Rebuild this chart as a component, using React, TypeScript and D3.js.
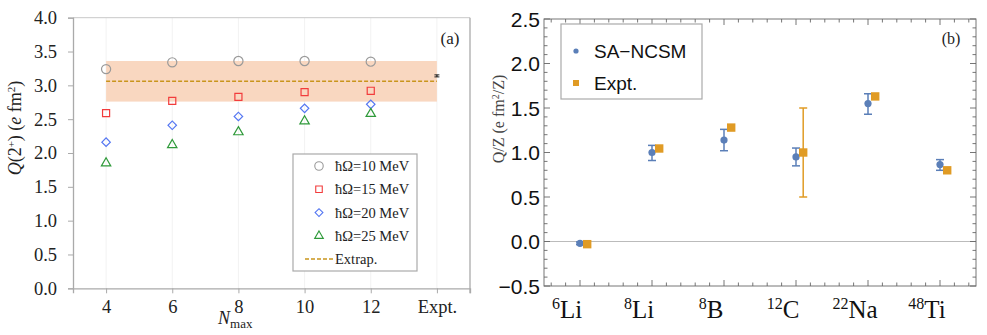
import React, { useEffect, useRef } from 'react';
import * as d3 from 'd3';

// panel (a): Q(2+) vs Nmax for several hbar-omega values
const nmaxLabels = ['4', '6', '8', '10', '12', 'Expt.'];
const hw10 = [3.24, 3.34, 3.36, 3.36, 3.35];
const hw15 = [2.59, 2.77, 2.83, 2.9, 2.92];
const hw20 = [2.16, 2.41, 2.54, 2.66, 2.72];
const hw25 = [1.85, 2.12, 2.31, 2.47, 2.58];
const seriesNames = ['ħΩ=10 MeV', 'ħΩ=15 MeV', 'ħΩ=20 MeV', 'ħΩ=25 MeV'];
const extrapValue = 3.06;
const extrapBand = [2.76, 3.36];
const exptA = 3.14;
const exptAErr = 0.015;

// panel (b): Q/Z per nucleus
const nucleusMass = ['6', '8', '8', '12', '22', '48'];
const nucleusSymbol = ['Li', 'Li', 'B', 'C', 'Na', 'Ti'];
const ncsmValue = [-0.02, 1.0, 1.14, 0.95, 1.55, 0.865];
const ncsmLow = [-0.035, 0.91, 1.02, 0.85, 1.43, 0.8];
const ncsmHigh = [-0.005, 1.08, 1.26, 1.05, 1.66, 0.92];
const exptValue = [-0.03, 1.045, 1.28, 1.0, 1.63, 0.8];
const exptLow = [null, null, null, 0.5, null, null];
const exptHigh = [null, null, null, 1.5, null, null];

const SERIF = '"Liberation Serif", "Times New Roman", serif';
const SANS = '"Liberation Sans", Arial, sans-serif';

const App = () => {
  const svgRef = useRef<SVGSVGElement>(null);

  useEffect(() => {
    const svg = d3.select(svgRef.current);
    svg.selectAll('*').remove();

    // ---------------- panel (a) ----------------
    const a = svg.append('g');
    const xA = d3.scalePoint<string>().domain(nmaxLabels).range([73, 470]).padding(0.5);
    const yA = d3.scaleLinear().domain([0, 4]).range([288.3, 17.7]);

    // faint vertical grid
    a.selectAll('line.vgrid')
      .data(nmaxLabels)
      .enter()
      .append('line')
      .attr('x1', (d) => xA(d)!)
      .attr('x2', (d) => xA(d)!)
      .attr('y1', yA(4))
      .attr('y2', yA(0))
      .attr('stroke', '#f2f2f2');

    // extrapolation band
    a.append('rect')
      .attr('x', xA('4')!)
      .attr('width', xA('Expt.')! - xA('4')!)
      .attr('y', yA(extrapBand[1]))
      .attr('height', yA(extrapBand[0]) - yA(extrapBand[1]))
      .attr('fill', '#f9d7c0');

    a.append('line')
      .attr('x1', xA('4')!)
      .attr('x2', xA('Expt.')!)
      .attr('y1', yA(extrapValue))
      .attr('y2', yA(extrapValue))
      .attr('stroke', '#c9951c')
      .attr('stroke-width', 1.6)
      .attr('stroke-dasharray', '4,2');

    // frame
    a.append('line').attr('x1', 73).attr('x2', 470).attr('y1', yA(4)).attr('y2', yA(4)).attr('stroke', '#c8c8c8');
    a.append('line').attr('x1', 470).attr('x2', 470).attr('y1', yA(4)).attr('y2', yA(0) + 5).attr('stroke', '#aaa').attr('stroke-width', 1.3);

    const axLeft = a.append('g')
      .attr('transform', 'translate(73,0)')
      .call(d3.axisLeft(yA).tickValues(d3.range(0, 4.01, 0.5)).tickFormat(d3.format('.1f')).tickSize(5).tickPadding(11));
    const axBottom = a.append('g')
      .attr('transform', `translate(0,${yA(0)})`)
      .call(d3.axisBottom(xA).tickSize(5).tickPadding(7));
    [axLeft, axBottom].forEach((g) => {
      g.select('.domain').attr('stroke', '#aaa').attr('stroke-width', 1.3);
      g.selectAll('.tick line').attr('stroke', '#aaa');
      g.selectAll('.tick text')
        .attr('fill', '#222')
        .style('font-family', SERIF)
        .style('font-size', '18.5px');
    });

    const shapes = [
      { sym: d3.symbolCircle, size: 66, rot: 0, color: '#9a9a9a' },
      { sym: d3.symbolSquare, size: 50, rot: 0, color: '#f23c3c' },
      { sym: d3.symbolSquare, size: 36, rot: 45, color: '#5577f2' },
      { sym: d3.symbolTriangle, size: 38, rot: 0, color: '#2f9a3a' },
    ];
    const seriesA = [hw10, hw15, hw20, hw25];
    seriesA.forEach((vals, si) => {
      const s = shapes[si];
      a.selectAll(`path.s${si}`)
        .data(vals)
        .enter()
        .append('path')
        .attr('d', d3.symbol().type(s.sym).size(s.size)())
        .attr('transform', (d, i) => `translate(${xA(nmaxLabels[i])},${yA(d)}) rotate(${s.rot})`)
        .attr('fill', 'none')
        .attr('stroke', s.color)
        .attr('stroke-width', 1.2);
    });

    // experimental point (tiny error bar)
    const ex = xA('Expt.')!;
    a.append('line').attr('x1', ex).attr('x2', ex).attr('y1', yA(exptA + exptAErr)).attr('y2', yA(exptA - exptAErr)).attr('stroke', '#222').attr('stroke-width', 1.3);
    [exptA + exptAErr, exptA - exptAErr].forEach((v) => {
      a.append('line').attr('x1', ex - 2.5).attr('x2', ex + 2.5).attr('y1', yA(v)).attr('y2', yA(v)).attr('stroke', '#222').attr('stroke-width', 1);
    });

    a.append('text').attr('x', 450).attr('y', 44).attr('text-anchor', 'middle')
      .style('font-family', SERIF).style('font-size', '17px').attr('fill', '#222').text('(a)');

    // legend (a)
    const lgA = a.append('g');
    lgA.append('rect').attr('x', 293).attr('y', 154).attr('width', 124).attr('height', 117)
      .attr('fill', 'white').attr('stroke', '#aaa').attr('stroke-width', 1.2);
    seriesNames.forEach((name, i) => {
      const s = shapes[i];
      const cy = 166 + i * 23.3;
      lgA.append('path')
        .attr('d', d3.symbol().type(s.sym).size(s.size * 0.85)())
        .attr('transform', `translate(319,${cy}) rotate(${s.rot})`)
        .attr('fill', 'none').attr('stroke', s.color).attr('stroke-width', 1.1);
      lgA.append('text').attr('x', 335).attr('y', cy + 5)
        .style('font-family', SERIF).style('font-size', '14.5px').attr('fill', '#222').text(name);
    });
    lgA.append('line').attr('x1', 305).attr('x2', 333).attr('y1', 259).attr('y2', 259)
      .attr('stroke', '#c9951c').attr('stroke-width', 1.5).attr('stroke-dasharray', '4,2');
    lgA.append('text').attr('x', 335).attr('y', 264)
      .style('font-family', SERIF).style('font-size', '14.5px').attr('fill', '#222').text('Extrap.');

    // axis titles (a)
    const ylabA = a.append('text')
      .attr('transform', 'translate(21,128) rotate(-90)')
      .attr('text-anchor', 'middle')
      .style('font-family', SERIF).style('font-size', '18px').attr('fill', '#222');
    ylabA.append('tspan').style('font-style', 'italic').text('Q');
    ylabA.append('tspan').text('(2');
    ylabA.append('tspan').attr('dy', -6).style('font-size', '11px').text('+');
    ylabA.append('tspan').attr('dy', 6).text(') (');
    ylabA.append('tspan').style('font-style', 'italic').text('e');
    ylabA.append('tspan').text(' fm');
    ylabA.append('tspan').attr('dy', -6).style('font-size', '11px').text('2');
    ylabA.append('tspan').attr('dy', 6).text(')');

    const xlabA = a.append('text').attr('x', 218).attr('y', 324)
      .style('font-family', SERIF).style('font-size', '18px').attr('fill', '#222');
    xlabA.append('tspan').style('font-style', 'italic').text('N');
    xlabA.append('tspan').attr('dy', 4).style('font-size', '13px').text('max');

    // ---------------- panel (b) ----------------
    const b = svg.append('g');
    const xB = d3.scaleLinear().domain([0.5, 6.5]).range([544, 976]);
    const yB = d3.scaleLinear().domain([-0.5, 2.5]).range([286, 19]);
    const x0 = xB.range()[0], x1 = xB.range()[1];
    const y0 = yB.range()[0], y1 = yB.range()[1];

    // zero line
    b.append('line').attr('x1', x0).attr('x2', x1).attr('y1', yB(0)).attr('y2', yB(0))
      .attr('stroke', '#bbb').attr('stroke-width', 1);

    b.append('rect').attr('x', x0).attr('y', y1).attr('width', x1 - x0).attr('height', y0 - y1)
      .attr('fill', 'none').attr('stroke', '#777').attr('stroke-width', 1);

    // inward ticks on all four sides
    const yMinor = d3.range(-5, 26).map((k) => k / 10);
    const xMinor = d3.range(3, 33).map((k) => k / 5);
    const tickCol = '#666';
    yMinor.forEach((v) => {
      const major = Math.abs(v * 2 - Math.round(v * 2)) < 1e-6;
      const len = major ? 6 : 3.5;
      [[x0, 1], [x1, -1]].forEach(([xx, dir]) => {
        b.append('line').attr('x1', xx).attr('x2', xx + dir * len).attr('y1', yB(v)).attr('y2', yB(v))
          .attr('stroke', tickCol).attr('stroke-width', 0.9);
      });
    });
    xMinor.forEach((v) => {
      const major = Math.abs(v - Math.round(v)) < 1e-6;
      const len = major ? 6 : 3.5;
      [[y0, -1], [y1, 1]].forEach(([yy, dir]) => {
        b.append('line').attr('x1', xB(v)).attr('x2', xB(v)).attr('y1', yy).attr('y2', yy + dir * len)
          .attr('stroke', tickCol).attr('stroke-width', 0.9);
      });
    });

    // y tick labels
    b.selectAll('text.ytick')
      .data(d3.range(-0.5, 2.51, 0.5))
      .enter()
      .append('text')
      .attr('x', x0 - 4)
      .attr('y', (d) => yB(d))
      .attr('dy', '0.36em')
      .attr('text-anchor', 'end')
      .style('font-family', SANS).style('font-size', '21px').attr('fill', '#111')
      .text((d) => (d < 0 ? '−' : '') + d3.format('.1f')(Math.abs(d)));

    // x tick labels with mass numbers
    nucleusSymbol.forEach((sym, i) => {
      const t = b.append('text').attr('x', xB(i + 1) - 13).attr('y', 318).attr('text-anchor', 'middle')
        .style('font-family', SERIF).style('font-size', '25px').attr('fill', '#111');
      t.append('tspan').attr('dy', -9).style('font-size', '16px').text(nucleusMass[i]);
      t.append('tspan').attr('dy', 9).text(sym);
    });

    const blue = '#5b7fb8';
    const orange = '#e09b25';
    const off = 0.1;

    const errBar = (x: number, lo: number, hi: number, color: string) => {
      b.append('line').attr('x1', x).attr('x2', x).attr('y1', yB(lo)).attr('y2', yB(hi))
        .attr('stroke', color).attr('stroke-width', 1.5);
      [lo, hi].forEach((v) => {
        b.append('line').attr('x1', x - 4).attr('x2', x + 4).attr('y1', yB(v)).attr('y2', yB(v))
          .attr('stroke', color).attr('stroke-width', 1.5);
      });
    };

    ncsmValue.forEach((v, i) => errBar(xB(i + 1), ncsmLow[i], ncsmHigh[i], blue));
    exptValue.forEach((v, i) => {
      if (exptLow[i] != null) errBar(xB(i + 1 + off), exptLow[i]!, exptHigh[i]!, orange);
    });

    b.selectAll('circle.ncsm')
      .data(ncsmValue)
      .enter()
      .append('circle')
      .attr('cx', (d, i) => xB(i + 1))
      .attr('cy', (d) => yB(d))
      .attr('r', 3.6)
      .attr('fill', blue);

    b.selectAll('rect.expt')
      .data(exptValue)
      .enter()
      .append('rect')
      .attr('x', (d, i) => xB(i + 1 + off) - 4.2)
      .attr('y', (d) => yB(d) - 4.2)
      .attr('width', 8.4)
      .attr('height', 8.4)
      .attr('fill', orange);

    b.append('text').attr('x', 951).attr('y', 44).attr('text-anchor', 'middle')
      .style('font-family', SERIF).style('font-size', '16px').attr('fill', '#222').text('(b)');

    // legend (b)
    b.append('rect').attr('x', 561).attr('y', 24).attr('width', 141).attr('height', 75)
      .attr('fill', 'white').attr('stroke', '#aaa').attr('stroke-width', 1.2);
    b.append('circle').attr('cx', 576).attr('cy', 51).attr('r', 2.6).attr('fill', blue);
    b.append('rect').attr('x', 573).attr('y', 80).attr('width', 6).attr('height', 6).attr('fill', orange);
    b.append('text').attr('x', 594).attr('y', 58).style('font-family', SANS).style('font-size', '19px')
      .attr('fill', '#111').text('SA−NCSM');
    b.append('text').attr('x', 594).attr('y', 90).style('font-family', SANS).style('font-size', '19px')
      .attr('fill', '#111').text('Expt.');

    const ylabB = b.append('text')
      .attr('transform', 'translate(504,119) rotate(-90)')
      .attr('text-anchor', 'middle')
      .style('font-family', SERIF).style('font-size', '16px').attr('fill', '#444');
    ylabB.append('tspan').text('Q/Z (e fm');
    ylabB.append('tspan').attr('dy', -5).style('font-size', '10px').text('2');
    ylabB.append('tspan').attr('dy', 5).text('/Z)');
  }, []);

  return (
    <svg
      ref={svgRef}
      width={987}
      height={335}
      style={{ position: 'absolute', left: 0, top: 0, background: 'white' }}
    ></svg>
  );
};

export default App;
